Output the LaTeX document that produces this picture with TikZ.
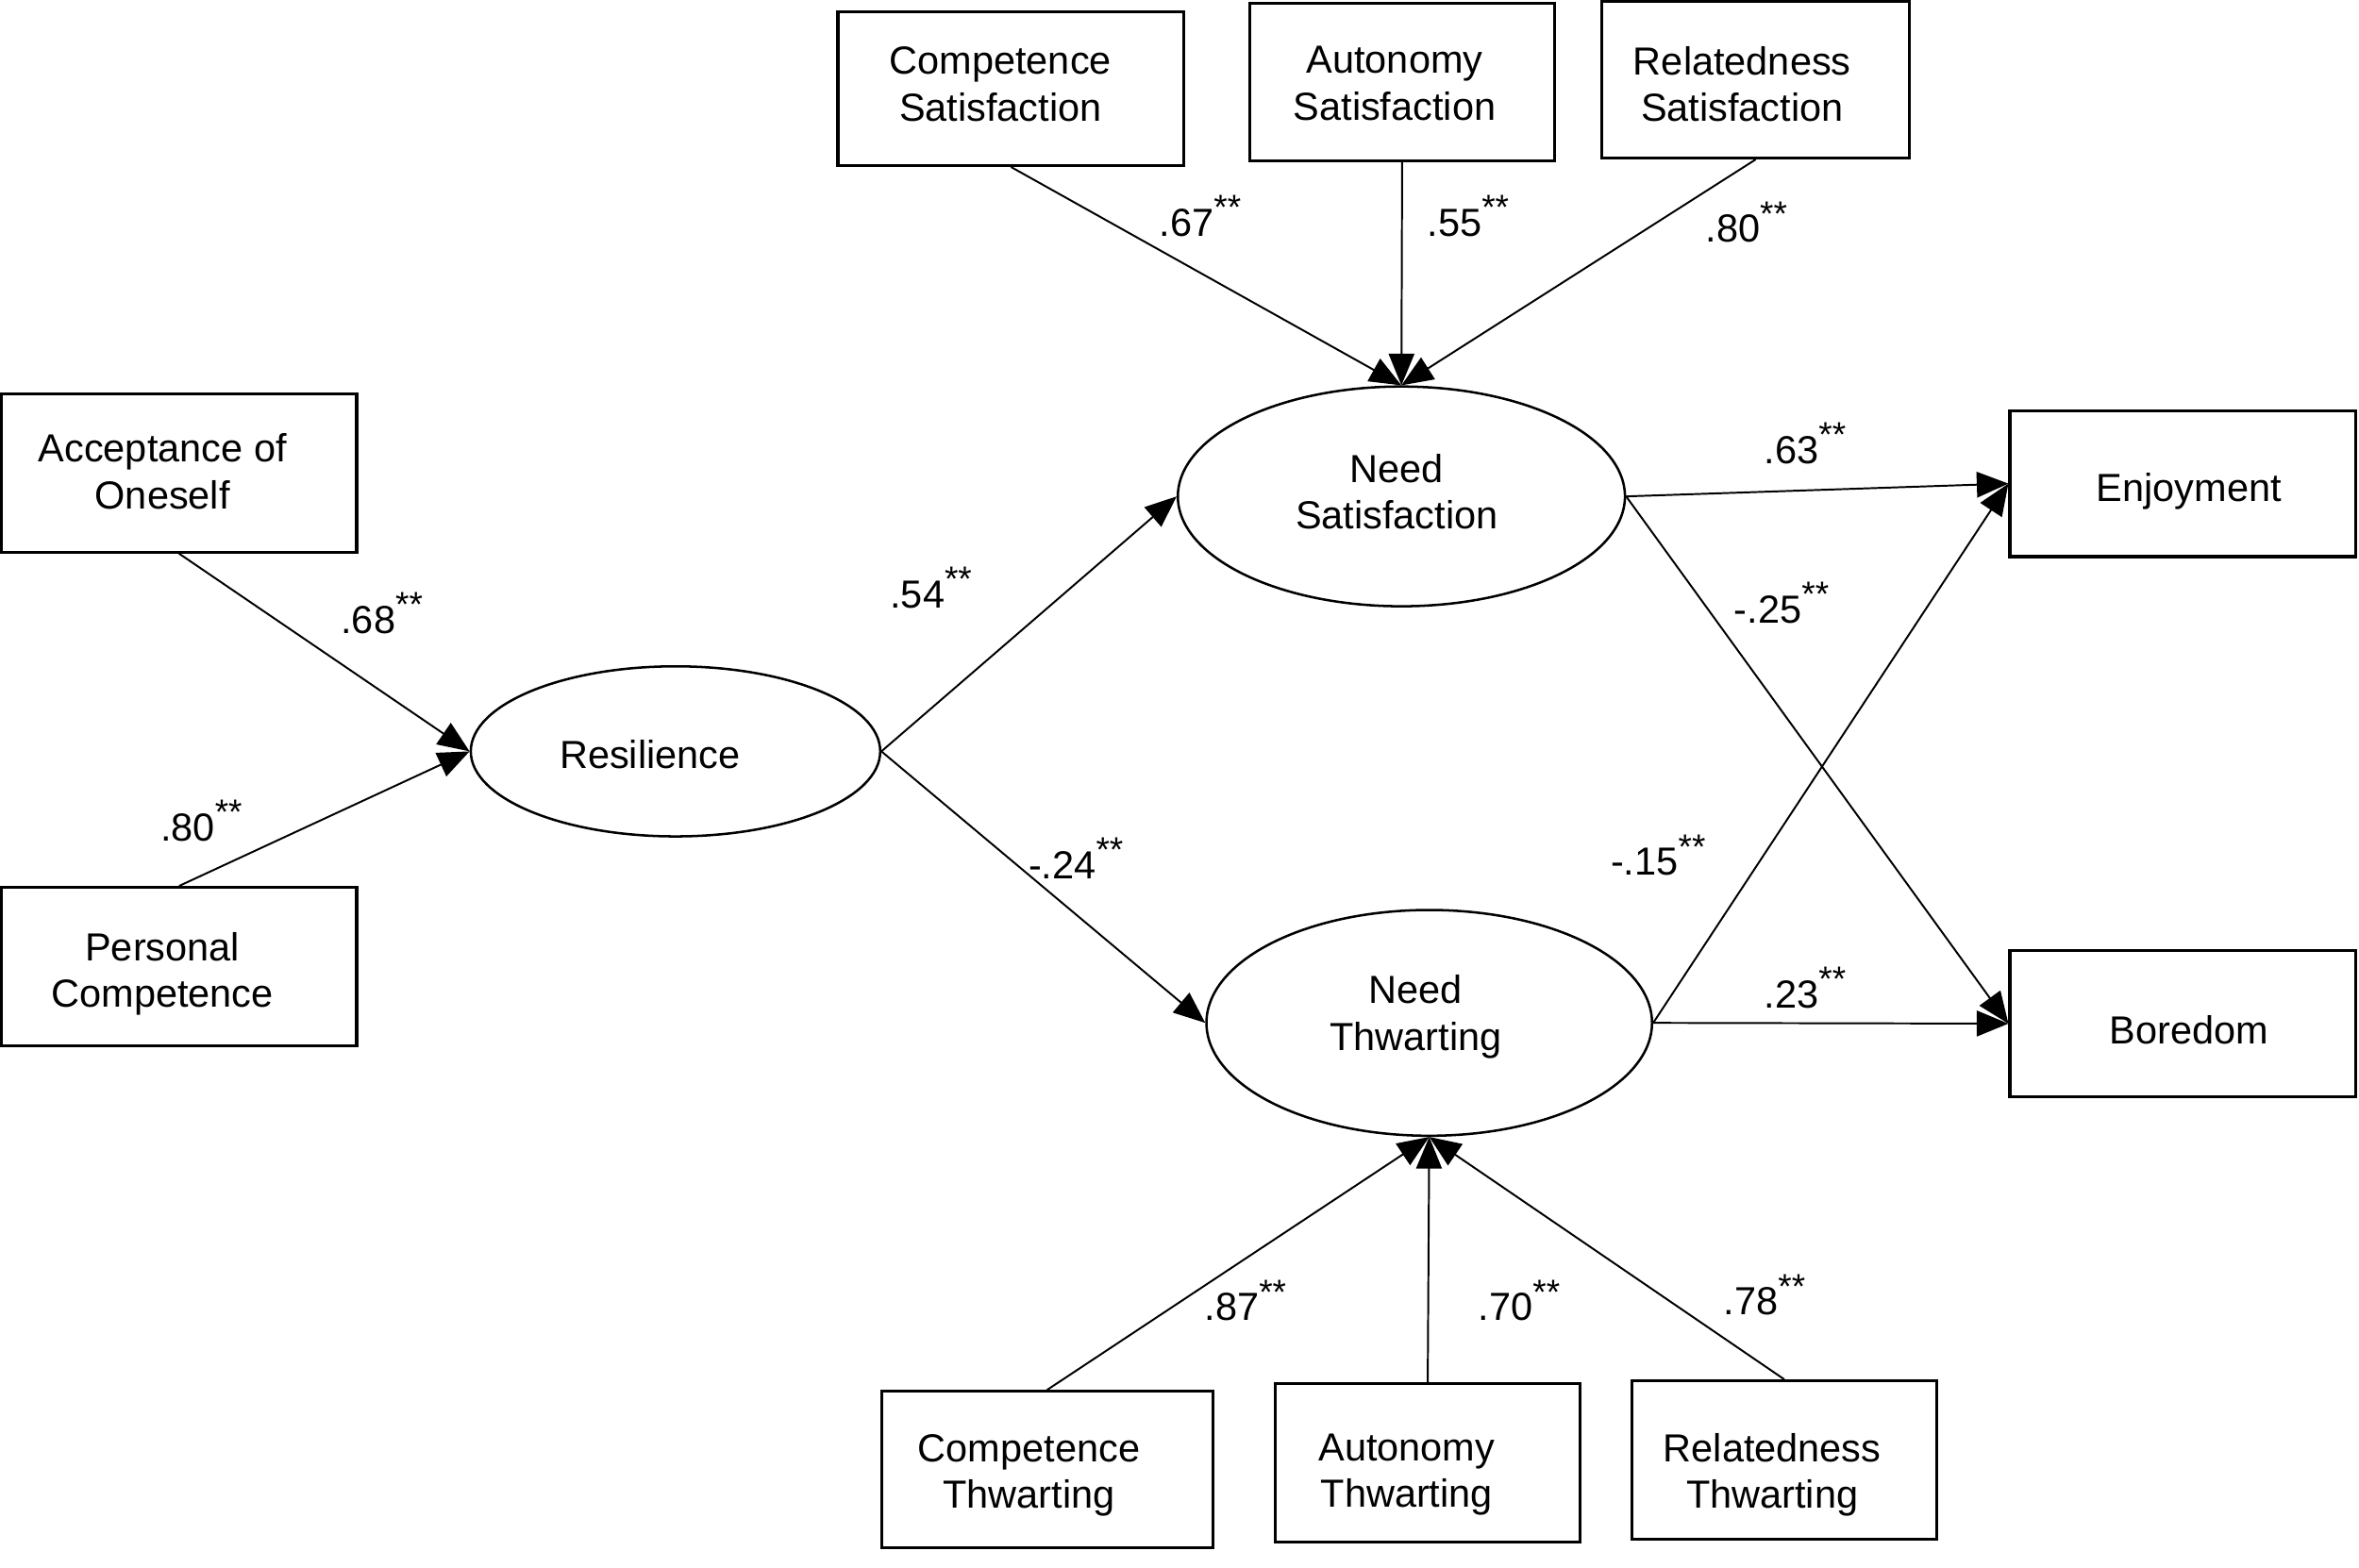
\documentclass[tikz,border=0pt]{standalone}
\usepackage{fontspec}
\setmainfont{Liberation Sans}
\usetikzlibrary{arrows.meta,shapes.geometric,calc}
\newcommand{\stars}{\raisebox{0.42em}{\fontsize{6.6pt}{7pt}\selectfont **}}
\begin{document}
\begin{tikzpicture}[x=0.01cm,y=-0.01cm,
  every node/.style={font=\fontsize{7.4pt}{8.8pt}\selectfont},
  box/.style={draw, line width=0.55pt, rectangle, inner sep=0pt},
  lat/.style={draw, line width=0.45pt, ellipse, inner sep=0pt},
  lbl/.style={align=center, inner sep=0pt},
  conn/.style={line width=0.35pt, -{Triangle[length=0.21cm,width=0.17cm]}},
  coef/.style={anchor=base west, inner sep=0pt}]
\useasboundingbox (0,0) rectangle (1568,1042);
\fill[white] (0,0) rectangle (1568,1042);

% boxes
\node[box, minimum width=2.36cm, minimum height=1.05cm,
  label={[lbl, shift={(-11,-1)}]center:{Acceptance of\\Oneself}}] (acc) at (119,314.5) {};
\node[box, minimum width=2.36cm, minimum height=1.05cm,
  label={[lbl, shift={(-11,5)}]center:{Personal\\Competence}}] (pc) at (119,642.5) {};
\node[box, minimum width=2.30cm, minimum height=1.02cm,
  label={[lbl, shift={(-7,-3)}]center:{Competence\\Satisfaction}}] (cs) at (672,59) {};
\node[box, minimum width=2.02cm, minimum height=1.05cm,
  label={[lbl, shift={(-5,1)}]center:{Autonomy\\Satisfaction}}] (as) at (932,54.5) {};
\node[box, minimum width=2.04cm, minimum height=1.04cm,
  label={[lbl, shift={(-9,3)}]center:{Relatedness\\Satisfaction}}] (rs) at (1167,53) {};
\node[box, minimum width=2.30cm, minimum height=0.97cm,
  label={[lbl, shift={(4,5)}]center:{Enjoyment}}] (enj) at (1451,321.5) {};
\node[box, minimum width=2.30cm, minimum height=0.97cm,
  label={[lbl, shift={(4,4)}]center:{Boredom}}] (bor) at (1451,680.5) {};
\node[box, minimum width=2.20cm, minimum height=1.04cm,
  label={[lbl, shift={(-12,4)}]center:{Competence\\Thwarting}}] (ct) at (696,977) {};
\node[box, minimum width=2.02cm, minimum height=1.05cm,
  label={[lbl, shift={(-14,8)}]center:{Autonomy\\Thwarting}}] (at) at (949,972.5) {};
\node[box, minimum width=2.02cm, minimum height=1.05cm,
  label={[lbl, shift={(-8,10)}]center:{Relatedness\\Thwarting}}] (rt) at (1186,970.5) {};

% latent ellipses
\node[lat, minimum width=2.72cm, minimum height=1.13cm,
  label={[lbl, shift={(-17,2)}]center:{Resilience}}] (res) at (449,499.5) {};
\node[lat, minimum width=2.97cm, minimum height=1.46cm,
  label={[lbl, shift={(-3,-3)}]center:{Need\\Satisfaction}}] (ns) at (931.5,330) {};
\node[lat, minimum width=2.96cm, minimum height=1.50cm,
  label={[lbl, shift={(-9,-4)}]center:{Need\\Thwarting}}] (nt) at (950,680) {};

% connectors
\draw[conn] (acc.south) -- (res.west);
\draw[conn] (pc.north) -- (res.west);
\draw[conn] (res.east) -- (ns.west);
\draw[conn] (res.east) -- (nt.west);
\draw[conn] (cs.south) -- (ns.north);
\draw[conn] (as.south) -- (ns.north);
\draw[conn] (rs.south) -- (ns.north);
\draw[conn] (ns.east) -- (enj.west);
\draw[conn] (ns.east) -- (bor.west);
\draw[conn] (nt.east) -- (enj.west);
\draw[conn] (nt.east) -- (bor.west);
\draw[conn] (ct.north) -- (nt.south);
\draw[conn] (at.north) -- (nt.south);
\draw[conn] (rt.north) -- (nt.south);

% coefficients
\node[coef] (l1) at (226,421) {.68\stars};
\node[coef] (l2) at (106,559) {.80\stars};
\node[coef] (l3) at (591,404) {.54\stars};
\node[coef] (l4) at (683,584) {-.24\stars};
\node[coef] (l5) at (770,157) {.67\stars};
\node[coef] (l6) at (948,157) {.55\stars};
\node[coef] (l7) at (1133,161) {.80\stars};
\node[coef] (l8) at (1172,308) {.63\stars};
\node[coef] (l9) at (1152,414) {-.25\stars};
\node[coef] (l10) at (1070,582) {-.15\stars};
\node[coef] (l11) at (1172,670) {.23\stars};
\node[coef] (l12) at (800,878) {.87\stars};
\node[coef] (l13) at (982,878) {.70\stars};
\node[coef] (l14) at (1145,874) {.78\stars};
\end{tikzpicture}
\end{document}
